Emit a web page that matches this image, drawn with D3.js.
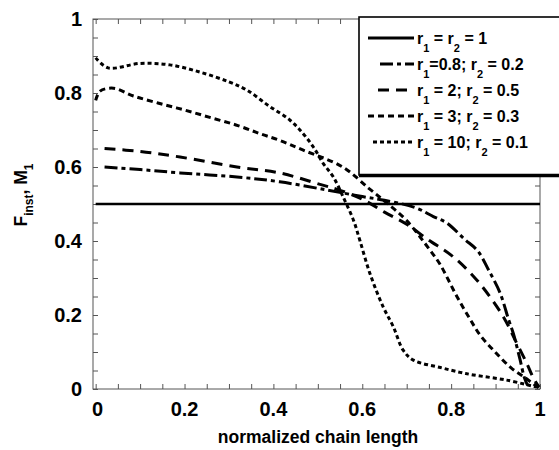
<!DOCTYPE html>
<html>
<head>
<meta charset="utf-8">
<script src="https://cdn.jsdelivr.net/npm/d3@7"></script>
<style>
  html, body { margin: 0; padding: 0; background: #fff; }
  svg text { font-family: "Liberation Sans", Arial, sans-serif; font-weight: bold; fill: #000; }
</style>
</head>
<body>
<svg id="chart" width="559" height="450"></svg>
<script>
// Tick values
const xTicks = [0, 0.2, 0.4, 0.6, 0.8, 1];
const yTicks = [0, 0.2, 0.4, 0.6, 0.8, 1];

// Series: [normalized chain length, F_inst]
const seriesEqual = [[0, 0.5], [1, 0.5]];
const series08 = [[0.02,0.6],[0.1,0.593],[0.19,0.584],[0.318,0.573],[0.414,0.56],[0.52,0.538],
  [0.6,0.52],[0.65,0.51],[0.72,0.49],[0.76,0.466],[0.79,0.449],[0.83,0.405],[0.86,0.373],
  [0.885,0.32],[0.91,0.26],[0.93,0.185],[0.94,0.15],[0.955,0.08],[0.965,0.03],[0.972,0.01]];
const series2 = [[0.02,0.65],[0.1,0.642],[0.19,0.627],[0.318,0.6],[0.414,0.584],[0.505,0.553],
  [0.55,0.537],[0.6,0.513],[0.65,0.478],[0.7,0.445],[0.75,0.402],[0.8,0.362],[0.85,0.305],
  [0.89,0.245],[0.92,0.19],[0.945,0.13],[0.97,0.07],[0.985,0.03],[0.998,0.005]];
const series3 = [[0,0.78],[0.01,0.805],[0.04,0.813],[0.085,0.792],[0.14,0.773],[0.2,0.754],
  [0.26,0.733],[0.32,0.712],[0.37,0.69],[0.414,0.672],[0.466,0.646],[0.556,0.6],[0.617,0.54],
  [0.655,0.503],[0.7,0.455],[0.752,0.376],[0.775,0.337],[0.813,0.25],[0.842,0.19],
  [0.865,0.146],[0.899,0.1],[0.935,0.057],[0.967,0.03],[0.997,0.003]];
const series10 = [[0,0.895],[0.028,0.868],[0.1,0.88],[0.167,0.876],[0.236,0.856],[0.3,0.83],
  [0.34,0.808],[0.39,0.765],[0.437,0.727],[0.467,0.69],[0.49,0.654],[0.512,0.61],[0.535,0.573],
  [0.557,0.519],[0.58,0.457],[0.595,0.4],[0.617,0.313],[0.647,0.222],[0.67,0.168],[0.692,0.105],
  [0.715,0.078],[0.776,0.058],[0.82,0.045],[0.85,0.038],[0.925,0.024],[0.993,0.005]];

// Legend labels: pieces of text, subscript pieces flagged
const legendLabels = [
  [["r"],["1",1],[" = r"],["2",1],[" = 1"]],
  [["r"],["1",1],["=0.8; r"],["2",1],[" = 0.2"]],
  [["r"],["1",1],[" = 2; r"],["2",1],[" = 0.5"]],
  [["r"],["1",1],[" = 3; r"],["2",1],[" = 0.3"]],
  [["r"],["1",1],[" = 10; r"],["2",1],[" = 0.1"]]
];

const seriesList = [seriesEqual, series08, series2, series3, series10];
const dashes = [null, "13,4,4,4", "11,7", "6,4", "4,3"];
const legendStart = [368, 380, 378, 368, 373];

const svg = d3.select("#chart");
const x = d3.scaleLinear().domain([-0.006, 1]).range([93, 540]);
const y = d3.scaleLinear().domain([0, 1]).range([389, 19]);

// Frame
const minor = d3.range(0, 1.0001, 0.05);
const axisColor = "#555";
svg.append("rect").attr("x", x.range()[0]).attr("y", y(1))
  .attr("width", x(1) - x.range()[0]).attr("height", y(0) - y(1))
  .attr("fill", "none").attr("stroke", axisColor).attr("stroke-width", 1);

const axBottom = svg.append("g").attr("transform", `translate(0,${y(0)})`)
  .call(d3.axisBottom(x).tickValues(minor).tickSize(-5).tickFormat(""));
const axTop = svg.append("g").attr("transform", `translate(0,${y(1)})`)
  .call(d3.axisTop(x).tickValues(minor).tickSize(-5).tickFormat(""));
const axLeft = svg.append("g").attr("transform", `translate(${x.range()[0]},0)`)
  .call(d3.axisLeft(y).tickValues(minor).tickSize(-5).tickFormat(""));
const axRight = svg.append("g").attr("transform", `translate(${x(1)},0)`)
  .call(d3.axisRight(y).tickValues(minor).tickSize(-5).tickFormat(""));
[axBottom, axTop, axLeft, axRight].forEach(g => {
  g.select(".domain").remove();
  g.selectAll(".tick line").attr("stroke", axisColor);
});

// Tick labels
svg.append("g").selectAll("text").data(xTicks).join("text")
  .attr("x", d => x(d) + (d === 0 ? 2 : 0)).attr("y", 416)
  .attr("text-anchor", "middle").attr("font-size", 20)
  .text(d => d3.format("~g")(d));
svg.append("g").selectAll("text").data(yTicks).join("text")
  .attr("x", 82).attr("y", d => y(d) + 7)
  .attr("text-anchor", "end").attr("font-size", 20)
  .text(d => d3.format("~g")(d));

// Axis titles
svg.append("text").attr("x", 318).attr("y", 443).attr("text-anchor", "middle")
  .attr("font-size", 17.5).text("normalized chain length");
const yt = svg.append("text").attr("transform", "translate(27,195) rotate(-90)")
  .attr("text-anchor", "middle").attr("font-size", 17.5);
yt.append("tspan").text("F");
yt.append("tspan").attr("font-size", 12).attr("dy", 6).text("inst");
yt.append("tspan").attr("dy", -6).text(", M");
yt.append("tspan").attr("font-size", 12).attr("dy", 6).text("1");

// Curves
const line = d3.line().x(d => x(d[0])).y(d => y(d[1])).curve(d3.curveCatmullRom);
svg.append("g").selectAll("path").data(seriesList).join("path")
  .attr("d", d => line(d)).attr("fill", "none").attr("stroke", "#000")
  .attr("stroke-width", (d, i) => i === 0 ? 2.6 : 3)
  .attr("stroke-dasharray", (d, i) => dashes[i]);

// Legend
const lg = svg.append("g");
lg.append("rect").attr("x", 359).attr("y", 17).attr("width", 215).attr("height", 158)
  .attr("fill", "#fff").attr("stroke", "#000").attr("stroke-width", 1.6);
lg.append("line").attr("x1", 359).attr("x2", 574).attr("y1", 175.5).attr("y2", 175.5)
  .attr("stroke", "#000").attr("stroke-width", 3.5);
legendLabels.forEach((parts, i) => {
  const base = 44 + i * 26;
  lg.append("line").attr("x1", legendStart[i]).attr("x2", 414)
    .attr("y1", base - 6).attr("y2", base - 6)
    .attr("stroke", "#000").attr("stroke-width", 3)
    .attr("stroke-dasharray", dashes[i]);
  const t = lg.append("text").attr("x", 417).attr("y", base).attr("font-size", 16);
  let sub = false;
  parts.forEach(p => {
    const isSub = !!p[1];
    const ts = t.append("tspan").text(p[0]);
    if (isSub !== sub) ts.attr("dy", isSub ? 8 : -8);
    if (isSub) ts.attr("font-size", 11);
    sub = isSub;
  });
});
</script>
</body>
</html>
